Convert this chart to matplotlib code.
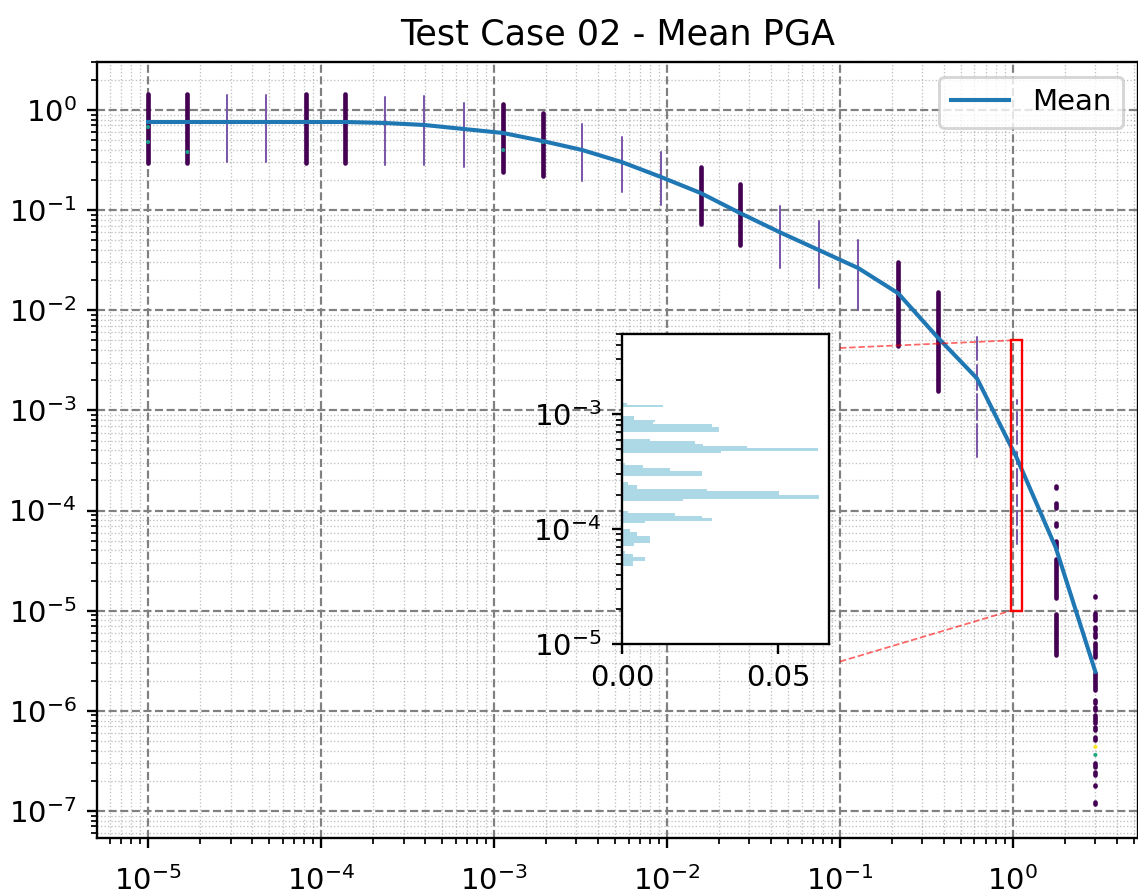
import numpy as np
import matplotlib
matplotlib.use("Agg")
import matplotlib.pyplot as plt
from matplotlib.patches import Rectangle

# ---------------- data ----------------
# x positions of the sample columns (log-spaced magnitudes)
col_x = [1.00e-5, 1.69e-5, 2.86e-5, 4.84e-5, 8.18e-5, 1.38e-4, 2.34e-4, 3.96e-4,
         6.69e-4, 1.13e-3, 1.91e-3, 3.24e-3, 5.48e-3, 9.26e-3, 1.57e-2, 2.65e-2,
         4.48e-2, 7.58e-2, 0.128, 0.217, 0.367, 0.620, 1.05, 1.77, 3.00]
# whether a column is densely sampled (thick dark) or thin
col_dense = [1, 1, 0, 0, 1, 1, 0, 0, 0, 1, 1, 0, 0, 0, 1, 1, 0, 0, 0, 1, 1, 0, 0, 1, 1]
# vertical extent(s) of the scatter in each column, log10(top), log10(bottom)
col_segments = [
    [(0.16, -0.53)], [(0.16, -0.53)], [(0.15, -0.52)], [(0.15, -0.52)],
    [(0.16, -0.53)], [(0.16, -0.53)], [(0.13, -0.55)], [(0.14, -0.55)],
    [(0.07, -0.57)], [(0.06, -0.62)], [(-0.03, -0.66)], [(-0.14, -0.71)],
    [(-0.27, -0.82)], [(-0.42, -0.95)], [(-0.57, -1.14)], [(-0.74, -1.35)],
    [(-0.96, -1.58)], [(-1.11, -1.78)], [(-1.30, -2.00)], [(-1.52, -2.36)],
    [(-1.82, -2.81)],
    [(-2.27, -2.50), (-2.55, -2.80), (-2.84, -3.10), (-3.14, -3.47)],
    [(-2.90, -2.94), (-3.02, -3.15), (-3.21, -3.34), (-3.42, -3.54),
     (-3.59, -3.75), (-3.84, -3.95), (-4.00, -4.14), (-4.19, -4.33)],
    [(-3.75, -3.77), (-3.92, -3.97), (-4.12, -4.15), (-4.30, -4.37),
     (-4.48, -4.87), (-5.03, -5.44)],
    [(-4.85, -4.86), (-5.02, -5.09), (-5.16, -5.19), (-5.22, -5.26),
     (-5.32, -5.37), (-5.39, -5.46), (-5.62, -5.79), (-5.89, -5.92),
     (-5.96, -5.99), (-6.04, -6.12), (-6.16, -6.19), (-6.26, -6.29),
     (-6.52, -6.56), (-6.61, -6.64), (-6.74, -6.75), (-6.91, -6.93)],
]
# a few points coloured differently (column index, log10 y, colour value)
hi_col = [0, 0, 1, 9, 10, 24, 24]
hi_logy = [-0.17, -0.32, -0.42, -0.40, -0.32, -6.36, -6.44]
hi_val = [0.55, 0.55, 0.55, 0.5, 0.5, 1.0, 0.6]

# mean curve (log10 of mean at each column)
mean_logy = [-0.12, -0.12, -0.12, -0.12, -0.12, -0.12, -0.13, -0.15, -0.19,
             -0.23, -0.31, -0.40, -0.52, -0.67, -0.83, -1.03, -1.22, -1.40,
             -1.58, -1.83, -2.27, -2.68, -3.47, -4.37, -5.61]

# inset histogram (column at x ~ 1.05): bin top/bottom in log10, relative frequency
hist_top = [-2.902, -2.916, -3.017, -3.046, -3.066, -3.089, -3.113, -3.214, -3.234,
            -3.257, -3.277, -3.297, -3.320, -3.421, -3.442, -3.465, -3.494, -3.586,
            -3.615, -3.652, -3.672, -3.701, -3.739, -3.840, -3.863, -3.883, -3.906,
            -3.932, -3.999, -4.027, -4.056, -4.123, -4.186, -4.215, -4.244, -4.279]
hist_bot = [-2.916, -2.939, -3.046, -3.066, -3.089, -3.113, -3.153, -3.234, -3.257,
            -3.277, -3.297, -3.320, -3.341, -3.442, -3.465, -3.494, -3.537, -3.615,
            -3.652, -3.672, -3.701, -3.739, -3.753, -3.863, -3.883, -3.906, -3.932,
            -3.950, -4.027, -4.056, -4.123, -4.143, -4.215, -4.244, -4.279, -4.325]
hist_val = [0.0015, 0.0131, 0.0038, 0.0105, 0.0099, 0.0287, 0.0310, 0.0090, 0.0233,
            0.0260, 0.0400, 0.0627, 0.0315, 0.0010, 0.0067, 0.0153, 0.0255, 0.0020,
            0.0048, 0.0271, 0.0503, 0.0630, 0.0195, 0.0020, 0.0169, 0.0255, 0.0287,
            0.0073, 0.0025, 0.0048, 0.0090, 0.0040, 0.0010, 0.0034, 0.0073, 0.0036]

zoom_x = (0.975, 1.125)
zoom_y = (1e-5, 5e-3)

# ---------------- figure ----------------
DPI = 210
fig = plt.figure(figsize=(1138 / DPI, 894 / DPI), dpi=DPI)
ax = fig.add_axes([97 / 1138, 56 / 894, 1041 / 1138, 776 / 894])
ax.set_xscale("log")
ax.set_yscale("log")

dark = "#440154"
thin = "#7b58a8"
for x, dense, segs in zip(col_x, col_dense, col_segments):
    tops = [10 ** a for a, b in segs]
    bots = [10 ** b for a, b in segs]
    if dense:
        lc = ax.vlines([x] * len(segs), bots, tops, colors=dark, linewidth=1.6, zorder=2)
    else:
        lc = ax.vlines([x] * len(segs), bots, tops, colors=thin, linewidth=0.7, zorder=2)
    lc.set_capstyle("round")

cmap = plt.get_cmap("viridis")
ax.scatter([col_x[i] for i in hi_col], [10 ** v for v in hi_logy],
           c=[cmap(v) for v in hi_val], s=2.0, linewidths=0, zorder=3)

ax.plot(col_x, [10 ** v for v in mean_logy], color="#1f77b4", lw=1.4, label="Mean", zorder=4)

ax.set_xlim(10 ** -5.295, 10 ** 0.7235)
ax.set_ylim(10 ** -7.27, 10 ** 0.479)
ax.tick_params(axis="x", which="major", pad=6)

ax.grid(True, which="major", ls="--", color="gray", lw=0.75)
ax.grid(True, which="minor", ls=":", color="gray", lw=0.45, alpha=0.5)
ax.set_title("Test Case 02 - Mean PGA", fontsize=12)
ax.legend(loc="upper right")

# zoom rectangle and connectors
ax.add_patch(Rectangle((zoom_x[0], zoom_y[0]), zoom_x[1] - zoom_x[0], zoom_y[1] - zoom_y[0],
                       fill=False, edgecolor="red", lw=0.8, zorder=5))
ax.plot([0.1, zoom_x[0]], [4.2e-3, zoom_y[1]], color="red", ls="--", lw=0.6, alpha=0.6, zorder=5)
ax.plot([0.1, zoom_x[0]], [3.1e-6, zoom_y[0]], color="red", ls="--", lw=0.6, alpha=0.6, zorder=5)

# inset histogram
axin = ax.inset_axes([0.5043, 0.25, 0.1989, 0.3995])
bot = [10 ** b for b in hist_bot]
hgt = [10 ** t - 10 ** b for t, b in zip(hist_top, hist_bot)]
axin.barh(bot, hist_val, height=hgt, align="edge", color="lightblue", linewidth=0)
axin.set_yscale("log")
axin.set_ylim(*zoom_y)
axin.set_xlim(0, max(hist_val) * 1.05)
axin.set_xticks([0.0, 0.05])
axin.set_xticklabels(["0.00", "0.05"])
axin.set_facecolor("white")

fig.savefig("out.png", dpi=DPI)
